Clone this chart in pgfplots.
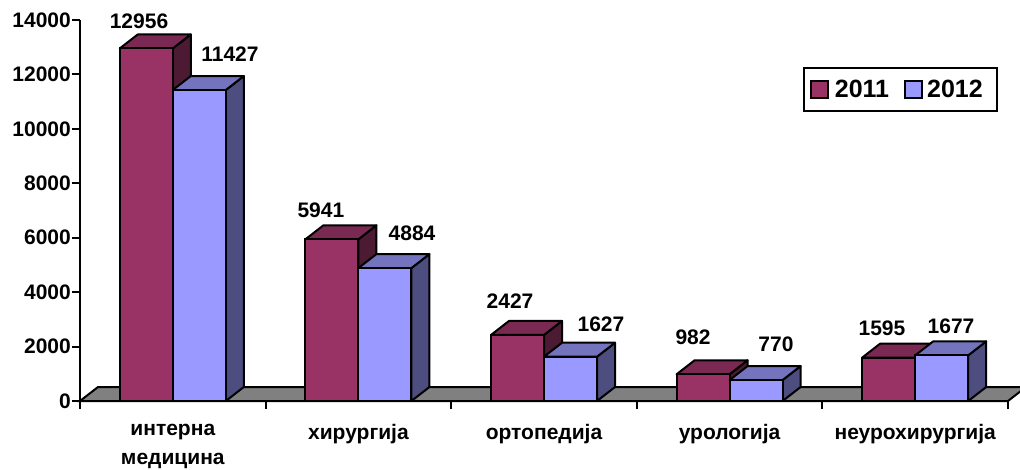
\documentclass[border=0pt]{standalone}
\usepackage{fontspec}
\setmainfont{Liberation Sans}
\usepackage{pgfplots}
\pgfplotsset{compat=1.18}
\definecolor{af}{HTML}{993366}\definecolor{at}{HTML}{7A2952}\definecolor{as}{HTML}{4D1A33}
\definecolor{bf}{HTML}{9999FF}\definecolor{bt}{HTML}{7474BE}\definecolor{bs}{HTML}{4D4D80}
\definecolor{fl}{HTML}{808080}
% depth of the 3-D effect in data units: 18 px and 14 px
\newcommand\faces[5]{% x left, x right, value, top colour, side colour
  \pgfmathsetmacro\xla{#1+0.097}\pgfmathsetmacro\xra{#2+0.097}\pgfmathsetmacro\vt{#3+514}
  \addplot[fill=#5,draw=black,line width=2pt,forget plot,line join=round] coordinates {(#2,0) (\xra,514) (\xra,\vt) (#2,#3)} --cycle;
  \addplot[fill=#4,draw=black,line width=2pt,forget plot,line join=round] coordinates {(#1,#3) (#2,#3) (\xra,\vt) (\xla,\vt)} --cycle;
}
\newcommand\lbl[3]{\node[font=\fontsize{21}{24}\selectfont\bfseries,inner sep=0pt] at (axis cs:#1,#2) {#3};}
\begin{document}
\begin{tikzpicture}
\path[clip,use as bounding box] (-80pt,-68pt) rectangle (940pt,401pt);
\begin{axis}[
  scale only axis, width=928pt, height=381pt,
  xmin=0, xmax=5, ymin=0, ymax=14000,
  axis y line=left, axis x line=bottom,
  axis line style={-,line width=2pt},
  clip=false,
  scaled y ticks=false,
  ytick={0,2000,4000,6000,8000,10000,12000,14000},
  xtick={0,1,2,3,4,5}, xticklabels={},
  extra x ticks={0.5,1.5,2.5,3.5,4.5},
  extra x tick labels={{интерна\\медицина},хирургија,ортопедија,урологија,неурохирургија},
  extra x tick style={major tick length=0pt},
  major tick length=8pt,
  tick style={black,line width=2pt},
  tick align=outside,
  y tick label style={font=\fontsize{21}{24}\selectfont\bfseries,inner sep=1pt,/pgf/number format/assume math mode=true,/pgf/number format/1000 sep={}},
  x tick label style={font=\fontsize{21}{29}\selectfont\bfseries,align=center,inner sep=0pt,yshift=-23pt},
  legend columns=2,
  legend style={at={(0.779,0.8766)},anchor=north west,draw=black,line width=2pt,
    font=\fontsize{25}{27}\selectfont\bfseries,inner xsep=5pt,inner ysep=10pt,
    /tikz/column 2/.style={column sep=12pt},
    nodes={inner sep=2pt,line width=0pt}},
]
% floor
\addplot[fill=fl,draw=black,line width=2pt,forget plot] coordinates {(0,0) (0.097,514) (5.097,514) (5,0)} --cycle;
% 2011
\faces{0.2144}{0.5}{12956}{at}{as}
\faces{1.2144}{1.5}{5941}{at}{as}
\faces{2.2144}{2.5}{2427}{at}{as}
\faces{3.2144}{3.5}{982}{at}{as}
\faces{4.2144}{4.5}{1595}{at}{as}
\addplot[ybar,bar width=53pt,bar shift=-26.5pt,fill=af,draw=black,line width=2pt,
  legend image code/.code={\draw[fill=af,draw=black,line width=1.5pt] (2pt,-8.5pt) rectangle (19pt,8.5pt);\path[draw=none,fill=none] (0,0) -- (24pt,0);}]
  coordinates {(0.5,12956) (1.5,5941) (2.5,2427) (3.5,982) (4.5,1595)};
\addlegendentry{2011}
% 2012
\faces{0.5}{0.7856}{11427}{bt}{bs}
\faces{1.5}{1.7856}{4884}{bt}{bs}
\faces{2.5}{2.7856}{1627}{bt}{bs}
\faces{3.5}{3.7856}{770}{bt}{bs}
\faces{4.5}{4.7856}{1677}{bt}{bs}
\addplot[ybar,bar width=53pt,bar shift=26.5pt,fill=bf,draw=black,line width=2pt,
  legend image code/.code={\draw[fill=bf,draw=black,line width=1.5pt] (2pt,-8.5pt) rectangle (19pt,8.5pt);\path[draw=none,fill=none] (0,0) -- (22pt,0);}]
  coordinates {(0.5,11427) (1.5,4884) (2.5,1627) (3.5,770) (4.5,1677)};
\addlegendentry{2012\rule{7pt}{0pt}}
% data labels
\lbl{0.318}{13963}{12956}
\lbl{0.808}{12750}{11427}
\lbl{1.298}{7018}{5941}
\lbl{1.789}{6173}{4884}
\lbl{2.317}{3675}{2427}
\lbl{2.807}{2829}{1627}
\lbl{3.303}{2352}{982}
\lbl{3.750}{2094}{770}
\lbl{4.321}{2682}{1595}
\lbl{4.693}{2756}{1677}
\end{axis}
\end{tikzpicture}
\end{document}
